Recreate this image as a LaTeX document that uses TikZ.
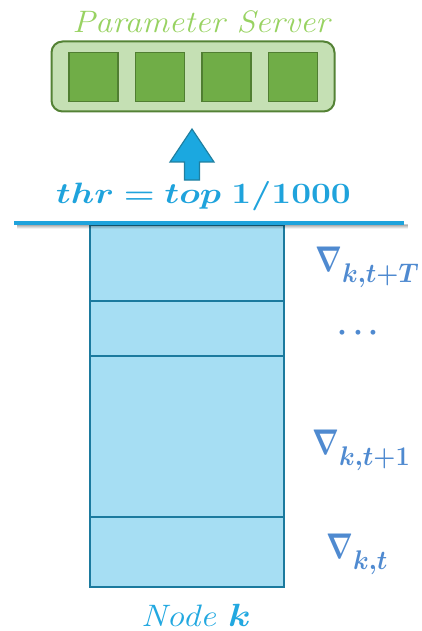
\documentclass[tikz,border=0pt]{standalone}
\usepackage{amsmath,bm,graphicx}
\definecolor{psText}{HTML}{98D262}
\definecolor{psFill}{HTML}{C5E0B4}
\definecolor{psDraw}{HTML}{548235}
\definecolor{cellFill}{HTML}{70AD47}
\definecolor{cellDraw}{HTML}{507E32}
\definecolor{arrFill}{HTML}{1BA8E0}
\definecolor{arrDraw}{HTML}{1F7FA0}
\definecolor{thrText}{HTML}{1FA3DC}
\definecolor{stackFill}{HTML}{A6DEF3}
\definecolor{stackDraw}{HTML}{1B7A9E}
\definecolor{gradText}{HTML}{4F8AD0}
\definecolor{nodeText}{HTML}{22A8E0}
\newcommand{\twenty}{\fontsize{20}{22}\selectfont}
\newcommand{\gradlab}[1]{\scalebox{1.35}[1.72]{\twenty$\bm{\nabla}$}\raisebox{-11pt}{\scalebox{1.22}[1.3]{\twenty$\bm{#1}$}}}
\begin{document}
\begin{tikzpicture}[x=1pt,y=-1pt,
  cellbox/.style={draw=cellDraw,fill=cellFill,line width=1.8pt,minimum width=49pt,minimum height=49pt,inner sep=0pt},
  gradlabel/.style={text=gradText,inner sep=0pt,anchor=base west}]
\useasboundingbox (0,0) rectangle (421,631);
% parameter server
\node[text=psText,inner sep=0pt,anchor=base] (pstitle) at (201,33) {\scalebox{1.1}[1]{\fontsize{31}{33}\selectfont\itshape Parameter\ Server}};
\node[draw=psDraw,fill=psFill,line width=2pt,rounded corners=11pt,minimum width=283pt,minimum height=70pt,inner sep=0pt] (ps) at (193,76.5) {};
\node[cellbox] (c1) at (93.5,77) {};
\node[cellbox] (c2) at (160,77) {};
\node[cellbox] (c3) at (226.5,77) {};
\node[cellbox] (c4) at (293,77) {};
% arrow
\draw[draw=arrDraw,fill=arrFill,line width=1.2pt,line join=miter]
  (184.5,180) -- (184.5,162) -- (170,162) -- (192,129) -- (214,162) -- (199.5,162) -- (199.5,180) -- cycle;
% threshold
\node[text=thrText,inner sep=0pt,anchor=base] (thr) at (203.5,203) {\scalebox{1.7}[1.42]{\twenty$\bm{thr = top\ 1/1000}$}};
% stack
\node[draw=stackDraw,fill=stackFill,line width=2pt,minimum width=194pt,minimum height=362pt,inner sep=0pt] (stack) at (187,406) {};
\draw[stackDraw,line width=2pt] (stack.west |- 0,300.5) -- (stack.east |- 0,300.5);
\draw[stackDraw,line width=2pt] (stack.west |- 0,356) -- (stack.east |- 0,356);
\draw[stackDraw,line width=2pt] (stack.west |- 0,517) -- (stack.east |- 0,517);
% line with shadow
\foreach \o/\a in {5/0.05,4/0.09,3/0.14,2/0.2} {\draw[black,opacity=\a,line width=2.5pt] (17,223+\o) -- (408,223+\o);}
\draw[thrText,line width=4pt] (14,222.5) -- (404,222.5);
% labels
\node[gradlabel] (g1) at (315,271) {\gradlab{k{,}t{+}T}};
\node[text=gradText,inner sep=0pt] (dots) at (361,333) {\scalebox{1.5}{\twenty$\bm{\cdots}$}};
\node[gradlabel] (g2) at (312,454) {\gradlab{k{,}t{+}1}};
\node[gradlabel] (g3) at (326,558) {\gradlab{k{,}t}};
\node[text=nodeText,inner sep=0pt,anchor=base] (nodek) at (196,626) {\scalebox{1.76}[1.55]{\twenty\itshape Node $\bm{k}$}};
\end{tikzpicture}
\end{document}
